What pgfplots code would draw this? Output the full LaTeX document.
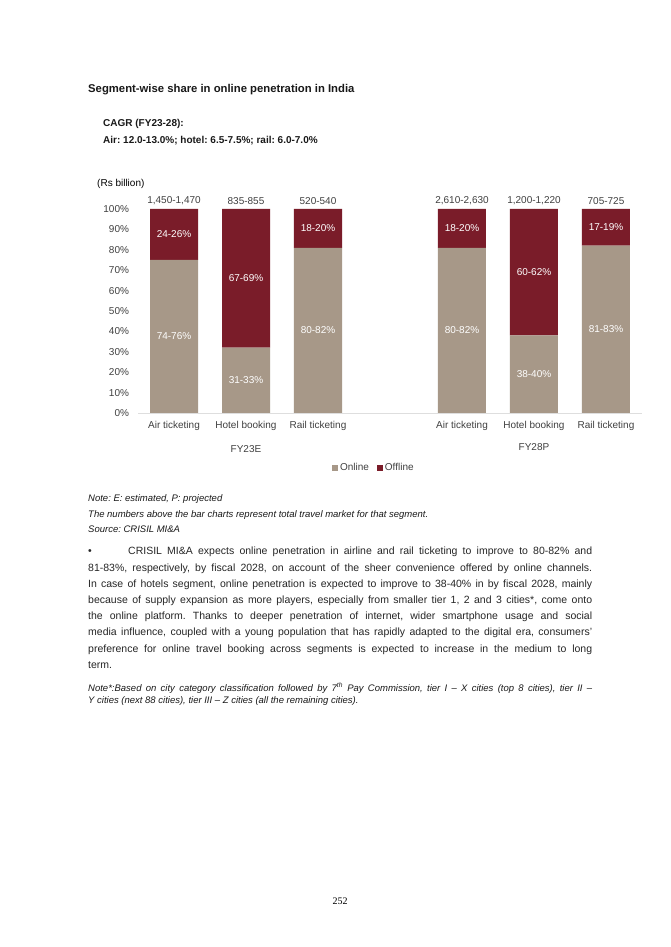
\documentclass[border=0pt]{standalone}
\usepackage{fontspec}
\setmainfont{Liberation Sans}
\newfontfamily\pagefont{Liberation Serif}
\usepackage{pgfplots}
\usepackage{pgfplotstable}
\pgfplotsset{compat=1.18}
\frenchspacing

\definecolor{online}{HTML}{A79888}
\definecolor{offline}{HTML}{7A1C29}
\definecolor{lbl}{HTML}{404040}
\newcommand{\fs}[2]{\fontsize{#1}{#2}\selectfont}

\pgfplotsset{
  sqlegend/.style={legend image code/.code={\fill[##1] (0pt,-3pt) rectangle (6pt,3pt);}},
  chartbox/.style={at={(138pt,534pt)}, anchor=south west, scale only axis,
    width=504pt, height=204pt, xmin=-0.5, xmax=6.5, ymin=0, ymax=100},
}

% online / offline share (%), range labels, segment size (Rs billion)
\pgfplotstableread{
x  on  off  onlbl   offlbl  tot
0  75  25   74-76   24-26   1,450-1,470
1  32  68   31-33   67-69   835-855
2  81  19   80-82   18-20   520-540
4  81  19   80-82   18-20   2,610-2,630
5  38  62   38-40   60-62   1,200-1,220
6  82  18   81-83   17-19   705-725
}\segdata

\begin{document}
\begin{tikzpicture}[x=1pt,y=1pt]
\fill[white] (0,0) rectangle (670,947);

\node[anchor=base west, inner sep=0, font=\bfseries\fs{11.3}{13}, text=black!90] at (88,854) {Segment-wise share in online penetration in India};
\node[anchor=base west, inner sep=0, font=\bfseries\fs{10}{12}, text=black!90] at (103,820) {CAGR (FY23-28):};
\node[anchor=base west, inner sep=0, font=\bfseries\fs{10}{12}, text=black!90] at (103,803) {Air: 12.0-13.0\%; hotel: 6.5-7.5\%; rail: 6.0-7.0\%};
\node[anchor=base west, inner sep=0, font=\fs{10}{12}] at (97,760) {(Rs billion)};

% stacked bars
\begin{axis}[
  chartbox,
  ybar stacked, bar width=48pt,
  axis lines*=left,
  y axis line style={draw=none},
  x axis line style={draw=black!13, line width=0.9pt},
  major tick length=0pt,
  xtick={0,1,2,4,5,6},
  xticklabels={Air ticketing, Hotel booking, Rail ticketing, Air ticketing, Hotel booking, Rail ticketing},
  ytick={0,10,...,100},
  yticklabel={\pgfmathprintnumber{\tick}\%},
  /pgf/number format/assume math mode=true,
  ticklabel style={font=\fs{10}{12}, text=lbl},
  xticklabel style={yshift=-5pt},
  yticklabel style={xshift=-5.5pt},
  legend style={at={(0.468,-0.27)}, anchor=center, draw=none, fill=none,
    font=\fs{10}{12}, text=lbl, legend columns=2,
    /tikz/every even column/.append style={column sep=6pt}},
  clip=false,
]
\addplot[fill=online, draw=none, sqlegend] table[x=x, y=on] {\segdata};
\addlegendentry{Online}
\addplot[fill=offline, draw=none, sqlegend] table[x=x, y=off] {\segdata};
\addlegendentry{Offline}
\node[font=\fs{10}{12}, text=lbl] at (axis cs:1,0) [yshift=-36pt] {FY23E};
\node[font=\fs{10}{12}, text=lbl] at (axis cs:5,0) [yshift=-34pt] {FY28P};
\end{axis}

% labels
\begin{axis}[
  chartbox, hide axis, clip=false,
  point meta=explicit symbolic,
  nodes near coords={\pgfplotspointmeta\%},
  nodes near coords align=center,
  every node near coord/.append style={font=\fs{10}{12}, text=white},
]
\addplot[only marks, mark=*, mark size=0pt, mark options={draw=none, fill=none}]
  table[x=x, y expr=\thisrow{on}/2, meta=onlbl] {\segdata};
\addplot[only marks, mark=*, mark size=0pt, mark options={draw=none, fill=none}]
  table[x=x, y expr=\thisrow{on}+\thisrow{off}/2, meta=offlbl] {\segdata};
\addplot[only marks, mark=*, mark size=0pt, mark options={draw=none, fill=none},
  nodes near coords={\pgfplotspointmeta}, nodes near coords align=vertical,
  every node near coord/.append style={text=lbl, yshift=1pt}]
  table[x=x, y expr=\thisrow{on}+\thisrow{off}, meta=tot] {\segdata};
\end{axis}

\node[anchor=base west, inner sep=0, font=\itshape\fs{9.5}{11}, text=black!90] at (88,445) {Note: E: estimated, P: projected};
\node[anchor=base west, inner sep=0, font=\itshape\fs{9.5}{11}, text=black!90] at (88,429.5) {The numbers above the bar charts represent total travel market for that segment.};
\node[anchor=base west, inner sep=0, font=\itshape\fs{9.5}{11}, text=black!90] at (88,414.5) {Source: CRISIL MI\&A};

\node[anchor=north west, inner sep=0, text width=504pt, align=justify, font=\fs{10.5}{16.2}, text=black!85] at (88,400)
{\makebox[40pt][l]{\textbullet}CRISIL MI\&A expects online penetration in airline and rail ticketing to improve to 80-82\% and\linebreak
81-83\%, respectively, by fiscal 2028, on account of the sheer convenience offered by online channels.\linebreak
In case of hotels segment, online penetration is expected to improve to 38-40\% in by fiscal 2028, mainly\linebreak
because of supply expansion as more players, especially from smaller tier 1, 2 and 3 cities*, come onto\linebreak
the online platform. Thanks to deeper penetration of internet, wider smartphone usage and social\linebreak
media influence, coupled with a young population that has rapidly adapted to the digital era, consumers’\linebreak
preference for online travel booking across segments is expected to increase in the medium to long\linebreak
term.};

\node[anchor=north west, inner sep=0, text width=504pt, align=justify, font=\itshape\fs{9.5}{12.3}, text=black!90] at (88,264.5)
{Note*:Based on city category classification followed by 7\textsuperscript{th} Pay Commission, tier I -- X cities (top 8 cities), tier II --\linebreak
Y cities (next 88 cities), tier III -- Z cities (all the remaining cities).};

\node[anchor=base, font=\pagefont\fs{10}{12}] at (340,42.5) {252};
\end{tikzpicture}
\end{document}
